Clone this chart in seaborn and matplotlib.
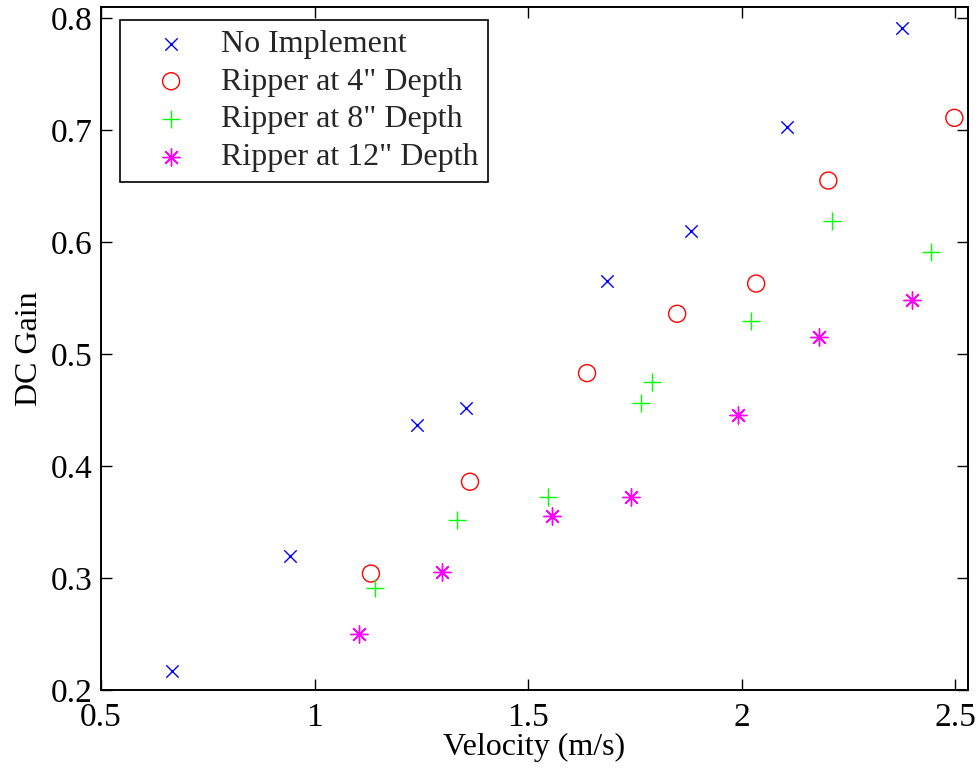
import matplotlib
matplotlib.use("Agg")
import matplotlib.pyplot as plt
import seaborn as sns
import numpy as np

# Data
no_impl_x = [0.666, 0.943, 1.240, 1.355, 1.685, 1.882, 2.107, 2.376]
no_impl_y = [0.217, 0.320, 0.437, 0.452, 0.565, 0.610, 0.703, 0.791]

rip4_x = [1.132, 1.364, 1.638, 1.849, 2.034, 2.203, 2.498]
rip4_y = [0.304, 0.386, 0.483, 0.536, 0.563, 0.655, 0.711]

rip8_x = [1.142, 1.334, 1.547, 1.765, 1.790, 2.022, 2.212, 2.444]
rip8_y = [0.291, 0.352, 0.372, 0.456, 0.475, 0.530, 0.619, 0.591]

rip12_x = [1.104, 1.299, 1.556, 1.741, 1.992, 2.181, 2.399]
rip12_y = [0.250, 0.305, 0.355, 0.372, 0.446, 0.515, 0.548]

labels = ["No Implement", 'Ripper at 4" Depth', 'Ripper at 8" Depth', 'Ripper at 12" Depth']
x_ticks = [0.5, 1, 1.5, 2, 2.5]
x_tick_labels = ["0.5", "1", "1.5", "2", "2.5"]
y_ticks = [0.2, 0.3, 0.4, 0.5, 0.6, 0.7, 0.8]
y_tick_labels = ["0.2", "0.3", "0.4", "0.5", "0.6", "0.7", "0.8"]

sns.set_theme(style="white")
plt.rcParams["font.family"] = ["Liberation Serif", "DejaVu Serif"]

fig = plt.figure(figsize=(9.78, 7.68), dpi=100)
ax = fig.add_axes([101 / 978, 1 - 690 / 768, (968 - 101) / 978, (690 - 7) / 768])

sns.scatterplot(x=no_impl_x, y=no_impl_y, marker="x", color=(0, 0, 1), s=80,
                linewidth=1.0, label=labels[0], ax=ax)
sns.scatterplot(x=rip4_x, y=rip4_y, marker="o", color=(1, 0, 0), facecolor="none",
                edgecolor=(1, 0, 0), s=150, linewidth=1.0, label=labels[1], ax=ax)
sns.scatterplot(x=rip8_x, y=rip8_y, marker="+", color=(0, 1, 0), s=180,
                linewidth=1.0, label=labels[2], ax=ax)
sns.scatterplot(x=rip12_x, y=rip12_y, marker=(8, 2, 0), color=(1, 0, 1), s=150,
                linewidth=1.0, label=labels[3], ax=ax)

ax.set_xlim(0.5, 2.53)
ax.set_ylim(0.2, 0.81)
ax.set_xticks(x_ticks)
ax.set_xticklabels(x_tick_labels)
ax.set_yticks(y_ticks)
ax.set_yticklabels(y_tick_labels)
ax.tick_params(direction="in", length=8, width=1.0, labelsize=24, colors="black",
               top=True, right=True, bottom=True, left=True)
ax.tick_params(axis="x", pad=9)
ax.tick_params(axis="y", pad=6)
for sp in ax.spines.values():
    sp.set_visible(True)
    sp.set_color("black")
    sp.set_linewidth(1.4)

ax.set_xlabel("Velocity (m/s)", fontsize=23, color="black", labelpad=0)
ax.set_ylabel("DC Gain", fontsize=23, color="black", labelpad=5)

leg = ax.legend(loc="upper left", bbox_to_anchor=(19 / 867, 1 - 13 / 683), fontsize=23,
                frameon=True, fancybox=False, edgecolor="black", framealpha=1,
                borderpad=0.3, labelspacing=0.26, handlelength=2.6, handletextpad=0.25,
                borderaxespad=0)
leg.get_frame().set_linewidth(1.2)

fig.savefig("out.png", dpi=100)
